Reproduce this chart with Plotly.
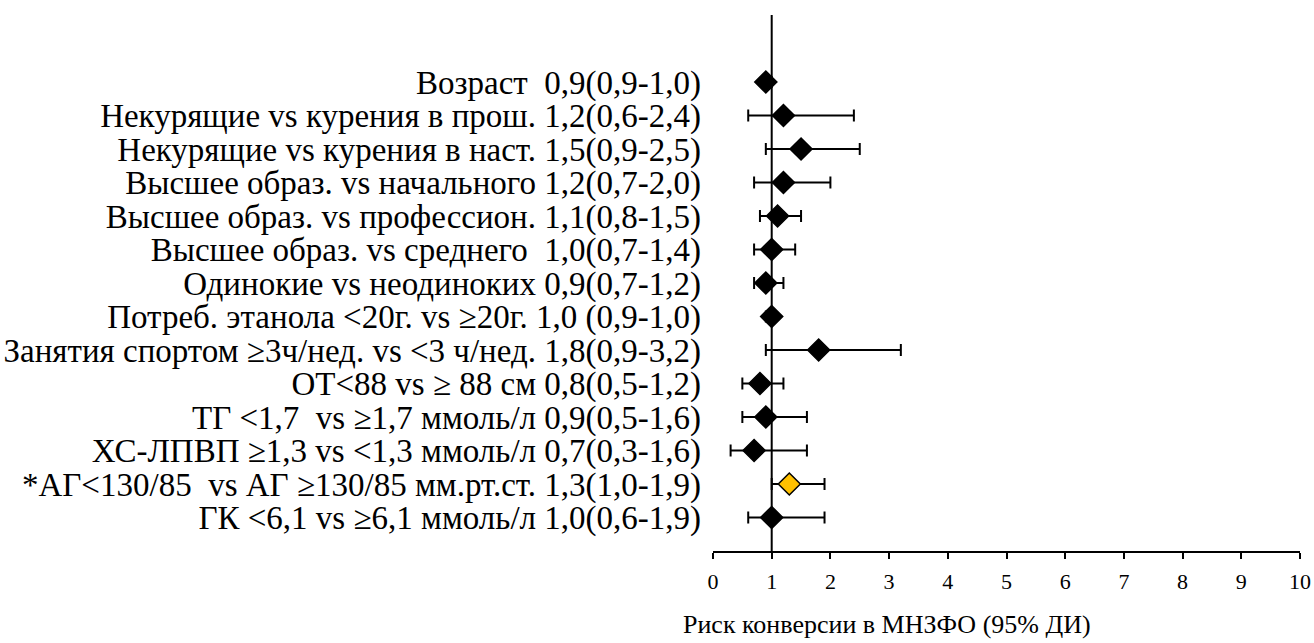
import plotly.graph_objects as go

labels = [
    "Возраст\u00a0\u00a00,9(0,9-1,0)",
    "Некурящие vs курения в прош. 1,2(0,6-2,4)",
    "Некурящие vs курения в наст. 1,5(0,9-2,5)",
    "Высшее образ. vs начального 1,2(0,7-2,0)",
    "Высшее образ. vs профессион. 1,1(0,8-1,5)",
    "Высшее образ. vs среднего\u00a0\u00a01,0(0,7-1,4)",
    "Одинокие vs неодиноких 0,9(0,7-1,2)",
    "Потреб. этанола <20г. vs ≥20г. 1,0 (0,9-1,0)",
    "Занятия спортом ≥3ч/нед. vs <3 ч/нед. 1,8(0,9-3,2)",
    "ОТ<88 vs ≥ 88 см 0,8(0,5-1,2)",
    "ТГ <1,7\u00a0\u00a0vs ≥1,7 ммоль/л 0,9(0,5-1,6)",
    "ХС-ЛПВП ≥1,3 vs <1,3 ммоль/л 0,7(0,3-1,6)",
    "*АГ<130/85\u00a0\u00a0vs АГ ≥130/85 мм.рт.ст. 1,3(1,0-1,9)",
    "ГК <6,1 vs ≥6,1 ммоль/л 1,0(0,6-1,9)",
]
estimate = [0.9, 1.2, 1.5, 1.2, 1.1, 1.0, 0.9, 1.0, 1.8, 0.8, 0.9, 0.7, 1.3, 1.0]
ci_low = [0.9, 0.6, 0.9, 0.7, 0.8, 0.7, 0.7, 0.9, 0.9, 0.5, 0.5, 0.3, 1.0, 0.6]
ci_high = [1.0, 2.4, 2.5, 2.0, 1.5, 1.4, 1.2, 1.0, 3.2, 1.2, 1.6, 1.6, 1.9, 1.9]
highlight = [False] * 12 + [True, False]
x_ticks = list(range(0, 11))
x_title = "Риск конверсии в МНЗФО (95% ДИ)"

n = len(labels)
ypos = [n - i for i in range(n)]  # 14 .. 1

FONT = "Liberation Serif, Times New Roman, serif"

fig = go.Figure()
# vertical reference line at 1
fig.add_shape(type="line", x0=1, x1=1, y0=0, y1=16, xref="x", yref="y",
              line=dict(color="black", width=2), layer="below")

fig.add_trace(go.Scatter(
    x=estimate, y=ypos, mode="markers",
    error_x=dict(type="data", symmetric=False,
                 array=[h - e for h, e in zip(ci_high, estimate)],
                 arrayminus=[e - l for e, l in zip(estimate, ci_low)],
                 color="black", thickness=2, width=6),
    marker=dict(symbol="diamond", size=17,
                color=["#FFC000" if h else "black" for h in highlight],
                line=dict(color="black", width=1.5)),
    hoverinfo="skip", showlegend=False,
))

fig.update_layout(
    width=1314, height=643,
    margin=dict(l=713, r=14, t=15, b=92, autoexpand=False),
    paper_bgcolor="white", plot_bgcolor="white",
    font=dict(family=FONT, color="black"),
    xaxis=dict(range=[0, 10], tickvals=x_ticks, ticktext=[str(t) for t in x_ticks],
               showgrid=False, zeroline=False, showline=True, linecolor="black",
               linewidth=1.5, ticks="outside", ticklen=6, tickwidth=1.5,
               tickcolor="black", tickfont=dict(size=22, family=FONT),
               ticklabelstandoff=4, automargin=False),
    yaxis=dict(range=[0, 16], tickvals=ypos, ticktext=labels,
               showgrid=False, zeroline=False, showline=False, ticks="",
               tickfont=dict(size=33, family=FONT), ticklabelstandoff=11,
               automargin=False),
    annotations=[dict(text=x_title, xref="paper", yref="paper", x=0.647, y=-0.137,
                      xanchor="right", yanchor="middle", showarrow=False,
                      font=dict(size=26, family=FONT, color="black"))],
)

fig.write_html("out.html")
